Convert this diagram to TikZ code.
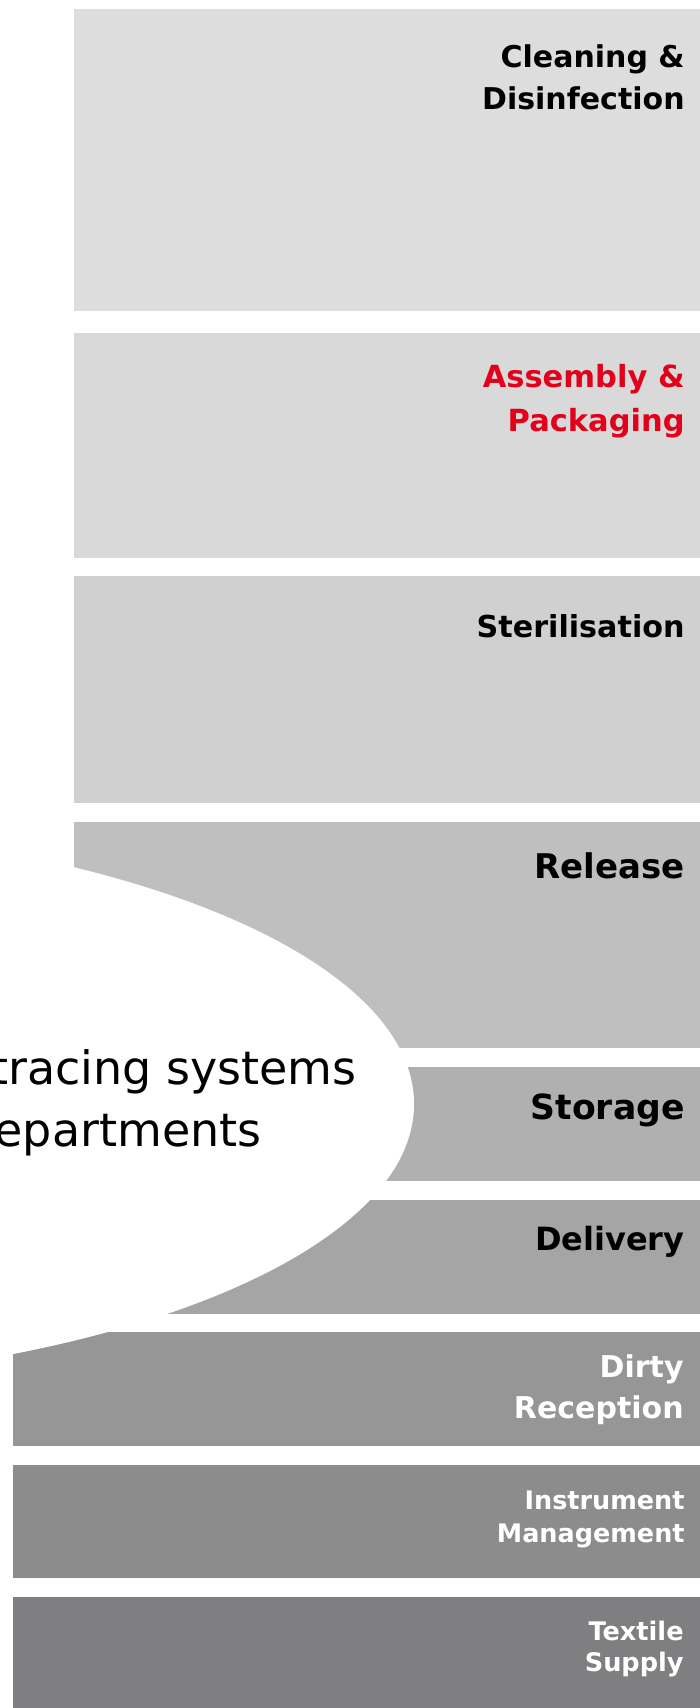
\documentclass[tikz,border=0pt]{standalone}
\usepackage{fontspec}
\setmainfont{DejaVu Sans}
\usepackage{xcolor}

\definecolor{bandA}{HTML}{DDDDDD}
\definecolor{bandB}{HTML}{D9D9D9}
\definecolor{bandC}{HTML}{D0D0D0}
\definecolor{bandD}{HTML}{BFBFBF}
\definecolor{bandE}{HTML}{B0B0B0}
\definecolor{bandF}{HTML}{A5A5A5}
\definecolor{bandG}{HTML}{969696}
\definecolor{bandH}{HTML}{8C8C8C}
\definecolor{bandI}{HTML}{7F7F81}
\definecolor{asmred}{HTML}{E2001A}

\begin{document}
\begin{tikzpicture}[x=0.5pt,y=-0.5pt,
		lbl/.style={anchor=base east, inner sep=0pt, font=\bfseries\fontsize{#1}{#1}\selectfont},
		lbl/.default=15,
		trace/.style={anchor=base east, inner sep=0pt, font=\fontsize{23}{27}\selectfont}]
			\useasboundingbox (0,0) rectangle (700,1708);
			\clip (0,0) rectangle (700,1708);

			% bands, top to bottom
			\foreach \l/\t/\b/\c in {74/9/311/bandA, 74/333/558/bandB, 74/576/803/bandC,
				74/822/1048/bandD, 13/1067/1181/bandE, 13/1200/1314/bandF,
				13/1332/1446/bandG, 13/1465/1578/bandH, 13/1597/1708/bandI}
			\fill[\c] (\l,\t) rectangle (700,\b);

			% white ellipse over the left side
			\fill[white] (-316,1104) ellipse [x radius=365pt, y radius=140pt];

			\node[trace] (trace1) at (357,1084) {tracing systems};
			\node[trace] (trace2) at (262,1146) {departments};

			\node[lbl=15] (clean1) at (685,67) {Cleaning \&};
			\node[lbl=15] (clean2) at (685,109) {Disinfection};

			\node[lbl=15.25, text=asmred] (asm1) at (685,387) {Assembly \&};
			\node[lbl=15.25, text=asmred] (asm2) at (685,431) {Packaging};

			\node[lbl=15.1] (steri) at (685,637) {Sterilisation};
			\node[lbl=17] (release) at (685,878) {Release};
			\node[lbl=17.3] (storage) at (685,1119) {Storage};
			\node[lbl=16] (delivery) at (685,1250) {Delivery};

			\node[lbl=15, text=white] (dirty1) at (684,1377) {Dirty};
			\node[lbl=15, text=white] (dirty2) at (684,1418) {Reception};

			\node[lbl=12.75, text=white] (instr1) at (685,1509) {Instrument};
			\node[lbl=12.75, text=white] (instr2) at (685,1542) {Management};

			\node[lbl=12.8, text=white] (textile1) at (684,1640) {Textile};
			\node[lbl=12.8, text=white] (textile2) at (684,1671) {Supply};
		\end{tikzpicture}
\end{document}
